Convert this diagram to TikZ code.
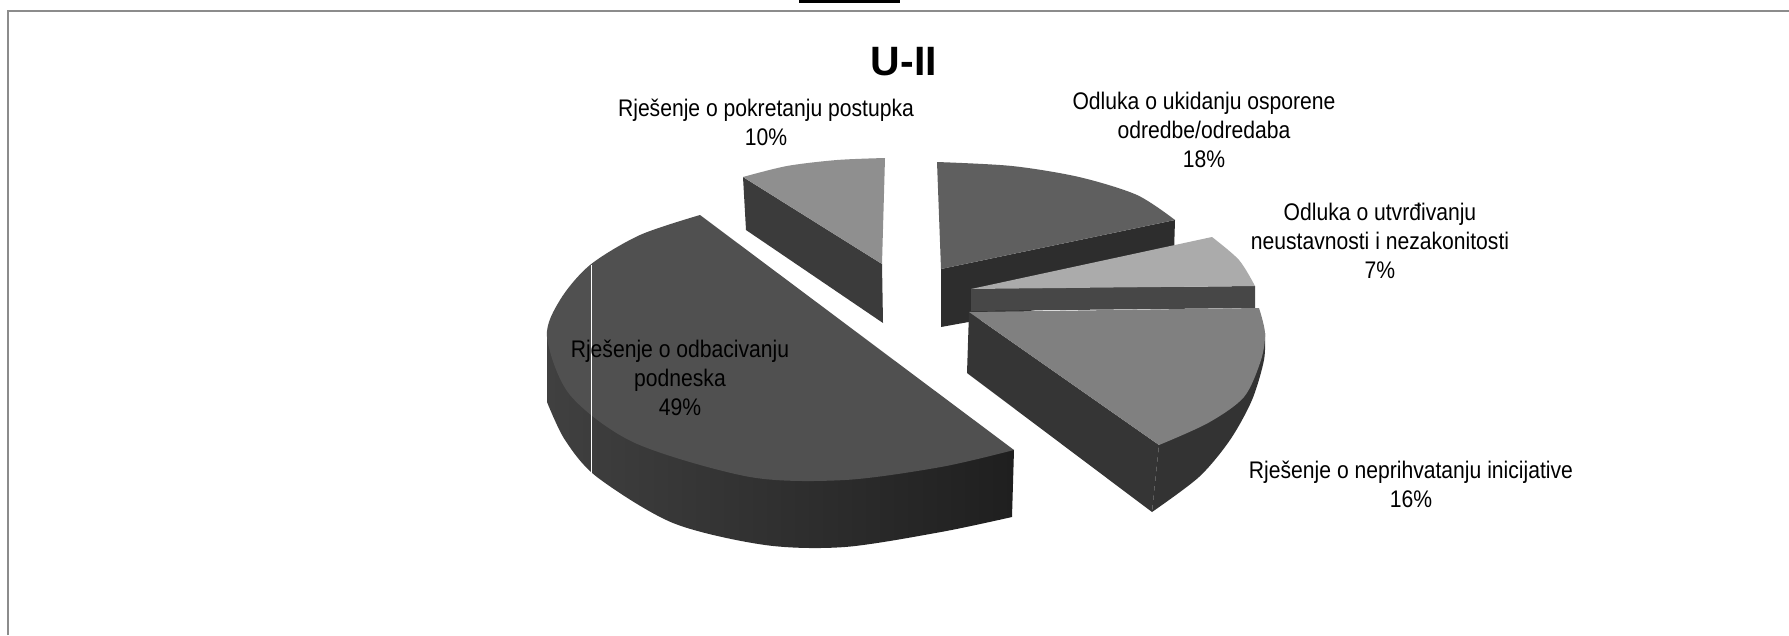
\documentclass[tikz,border=0pt]{standalone}
\usepackage{fontspec}
\setmainfont{Liberation Sans}
\newfontfamily\lblfont[FakeStretch=0.88]{Liberation Sans}

\definecolor{framegray}{HTML}{8C8C8C}
\definecolor{top10}{HTML}{8F8F8F}
\definecolor{side10}{HTML}{3B3B3B}
\definecolor{top18}{HTML}{5F5F5F}
\definecolor{side18}{HTML}{2D2D2D}
\definecolor{top07}{HTML}{ABABAB}
\definecolor{side07}{HTML}{474747}
\definecolor{top16}{HTML}{808080}
\definecolor{cut16}{HTML}{353535}
\definecolor{side16}{HTML}{333333}
\definecolor{top49}{HTML}{505050}
\definecolor{side49l}{HTML}{404040}
\definecolor{side49r}{HTML}{1F1F1F}

\begin{document}
\begin{tikzpicture}[
  x=1pt, y=-1pt,
  lbl/.style={align=center, inner sep=0pt, font=\lblfont\fontsize{24}{29}\selectfont},
]

\useasboundingbox (0,0) rectangle (1789,635);

\draw [framegray, line width=2.2pt] (8,635) -- (8,11) -- (1789,11);
\fill (799,0) rectangle (900,3.3);

\node (title) at (904,62) {\fontsize{41}{49}\selectfont\bfseries U-II};

% 10%
\fill [side10] (743,177) -- (882,264) -- (883,323) -- (746,230) -- cycle;
\fill [top10] (882,264) -- (743,177) -- plot [smooth] coordinates {(743,177) (787,166) (837,160) (885,158)} -- cycle;

% 18%
\fill [side18] (941,269) -- (1175,220) -- (1173,285) -- (941,327) -- cycle;
\fill [top18] (941,269) -- (937,162) -- plot [smooth] coordinates {(937,162) (1012,166) (1079,177) (1137,195) (1175,220)} -- cycle;

% 7%
\fill [side07] (971,289) -- (1255,286) -- (1255,308) -- (971,311) -- cycle;
\fill [top07] (971,289) -- (1212,237) -- plot [smooth] coordinates {(1212,237) (1239,260) (1255,286)} -- cycle;

% 16%
\fill [side16] (1159,445) -- (1152,512) -- plot [smooth] coordinates {(1152,512) (1199,477) (1230,440) (1252,400) (1264,360) (1265,333)} -- cycle;
\fill [cut16] (969,312) -- (1159,445) -- (1152,512) -- (967,373) -- cycle;
\fill [top16] (969,312) -- (1259,308) -- plot [smooth] coordinates {(1259,308) (1265,333) (1261,360) (1244,397) (1208,423) (1159,445)} -- cycle;

% 49%
\shade [left color=side49l, right color=side49r] (1014,450) -- (1012,517) -- plot [smooth] coordinates {(1012,517) (941,532) (845,547) (765,545) (673,523) (597,477) (565,440) (547,402)} -- (547,337) -- cycle;
\fill [top49] (700,215) -- (1014,450) -- plot [smooth] coordinates {(1014,450) (941,467) (845,480) (750,477) (635,443) (570,395) (547,337) (560,300) (590,265) (640,235) (700,215)} -- cycle;
\draw [white, line width=0.6pt] (591,265) -- (591,477);

\node [lbl] (pokretanje) at (766,122.5) {Rješenje o pokretanju postupka\\10\%};
\node [lbl] (ukidanje) at (1204,129.5) {Odluka o ukidanju osporene\\odredbe/odredaba\\18\%};
\node [lbl] (utvrdjivanje) at (1380,241) {Odluka o utvrđivanju\\neustavnosti i nezakonitosti\\7\%};
\node [lbl] (neprihvatanje) at (1411,484) {Rješenje o neprihvatanju inicijative\\16\%};
\node [lbl] (odbacivanje) at (680,378) {Rješenje o odbacivanju\\podneska\\49\%};

\end{tikzpicture}
\end{document}
